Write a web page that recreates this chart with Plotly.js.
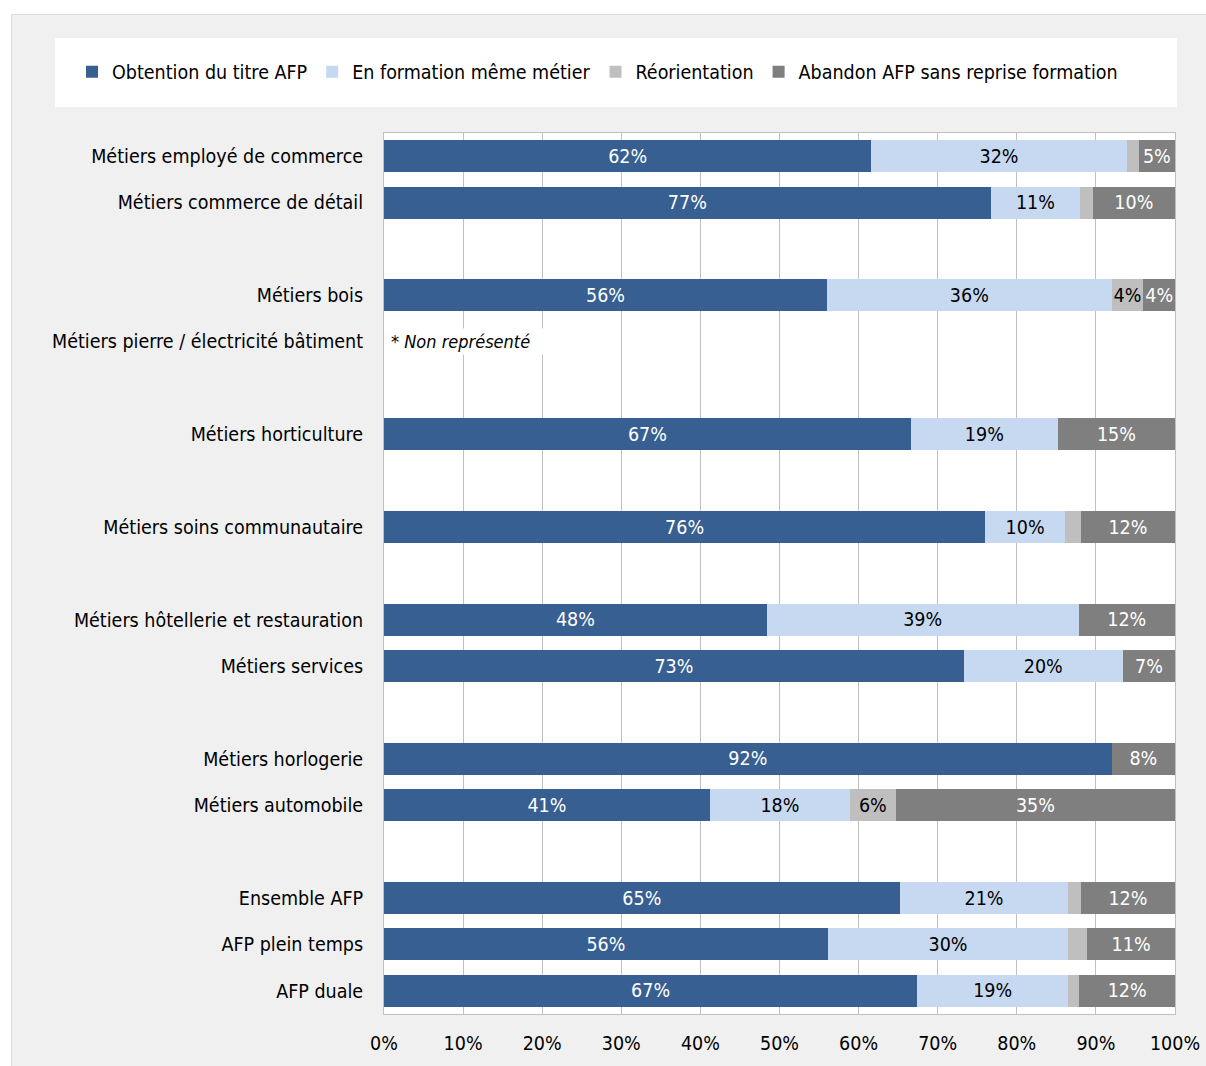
<!DOCTYPE html>
<html>
<head>
<meta charset="utf-8">
<script src="https://cdn.plot.ly/plotly-3.0.1.min.js"></script>
<style>
  html, body { margin: 0; padding: 0; background: #ffffff; }
  #chart { position: absolute; left: 11px; top: 14px; width: 1194px; height: 1051px;
           border-left: 1px solid #dcdcdc; border-top: 1px solid #dcdcdc; }
</style>
</head>
<body>
<div id="chart"></div>
<script>
// ---- Data ----
const categories = [
  "Métiers employé de commerce",
  "Métiers commerce de détail",
  "",
  "Métiers bois",
  "Métiers pierre / électricité bâtiment",
  "",
  "Métiers horticulture",
  "",
  "Métiers soins communautaire",
  "",
  "Métiers hôtellerie et restauration",
  "Métiers services",
  "",
  "Métiers horlogerie",
  "Métiers automobile",
  "",
  "Ensemble AFP",
  "AFP plein temps",
  "AFP duale"
];
const seriesNames = [
  "Obtention du titre AFP",
  "En formation même métier",
  "Réorientation",
  "Abandon AFP sans reprise formation"
];
const obtention   = [61.6, 76.7, null, 56.0, null, null, 66.6, null, 76.0, null, 48.4, 73.3, null, 92.0, 41.2, null, 65.2, 56.1, 67.4];
const enFormation = [32.3, 11.3, null, 36.0, null, null, 18.6, null, 10.1, null, 39.4, 20.1, null, 0,    17.7, null, 21.3, 30.4, 19.1];
const reorient    = [1.5,  1.6,  null, 4.0,  null, null, 0,    null, 2.0,  null, 0,    0,    null, 0,    5.8,  null, 1.6,  2.4,  1.4];
const abandon     = [4.6,  10.4, null, 4.0,  null, null, 14.8, null, 11.9, null, 12.2, 6.6,  null, 8.0,  35.3, null, 11.9, 11.1, 12.1];
const notShownCategory = "Métiers pierre / électricité bâtiment";
const notShownText = "* Non représenté";
const xTickVals = [0, 10, 20, 30, 40, 50, 60, 70, 80, 90, 100];

// ---- Styles ----
const FONT = "'DejaVu Sans Condensed', 'Liberation Sans Narrow', 'Arial Narrow', sans-serif";
const FS = 19.5;
const colors = ["#375f91", "#c6d9f1", "#bfbfbf", "#7f7f7f"];
const textColors = ["#ffffff", "#000000", "#000000", "#ffffff"];
const seriesValues = [obtention, enFormation, reorient, abandon];

const yIdx = categories.map((c, i) => i);
const label = v => (v != null && v >= 3.5) ? Math.round(v) + "%" : "";

const traces = seriesValues.map((vals, k) => ({
  type: "bar",
  orientation: "h",
  name: seriesNames[k],
  x: vals,
  y: yIdx,
  text: vals.map(label),
  texttemplate: "%{text}",
  textposition: "inside",
  insidetextanchor: "middle",
  textangle: 0,
  textfont: { family: FONT, size: FS, color: textColors[k] },
  marker: { color: colors[k], line: { width: 0 } },
  hoverinfo: "skip"
}));

// paper coordinate helpers (plot area: x 384..1175, y 133..1014 in page px)
const px = p => (p - 384) / 791;
const py = p => (1014 - p) / 881;

const layout = {
  width: 1194,
  height: 1051,
  margin: { l: 372, r: 31, t: 118, b: 52, pad: 0 },
  paper_bgcolor: "#f0f0f0",
  plot_bgcolor: "#ffffff",
  barmode: "stack",
  bargap: 0.31,
  font: { family: FONT, size: FS, color: "#000000" },
  uniformtext: { mode: "show", minsize: FS },
  showlegend: true,
  legend: {
    orientation: "h",
    x: px(72), xanchor: "left",
    y: py(72), yanchor: "middle",
    bgcolor: "rgba(0,0,0,0)",
    font: { family: FONT, size: FS, color: "#000000" },
    traceorder: "normal",
    itemclick: false
  },
  xaxis: {
    range: [0, 100],
    tickvals: xTickVals,
    ticktext: xTickVals.map(v => v + "%"),
    showgrid: true,
    gridcolor: "#c0c0c0",
    gridwidth: 1,
    showline: true,
    linecolor: "#c0c0c0",
    mirror: true,
    zeroline: false,
    ticks: "",
    ticklabelstandoff: 12,
    tickfont: { family: FONT, size: FS, color: "#000000" },
    fixedrange: true
  },
  yaxis: {
    range: [categories.length - 0.5, -0.5],
    tickvals: yIdx,
    ticktext: categories,
    showgrid: false,
    showline: true,
    linecolor: "#c0c0c0",
    mirror: true,
    zeroline: false,
    ticks: "",
    ticklabelstandoff: 16,
    tickfont: { family: FONT, size: FS, color: "#000000" },
    fixedrange: true
  },
  shapes: [
    { type: "rect", xref: "paper", yref: "paper", layer: "below",
      x0: px(55), x1: px(1177), y0: py(107), y1: py(38),
      fillcolor: "#ffffff", line: { width: 0 } }
  ],
  annotations: [
    { x: 0, y: categories.indexOf(notShownCategory), xref: "x", yref: "y",
      text: notShownText, showarrow: false, xanchor: "left", yanchor: "middle",
      xshift: 4, align: "left", width: 150, bgcolor: "#ffffff", borderpad: 2,
      font: { family: FONT, size: 18, color: "#000000", style: "italic" } }
  ]
};

Plotly.newPlot("chart", traces, layout, { staticPlot: true, displayModeBar: false });
</script>
</body>
</html>
